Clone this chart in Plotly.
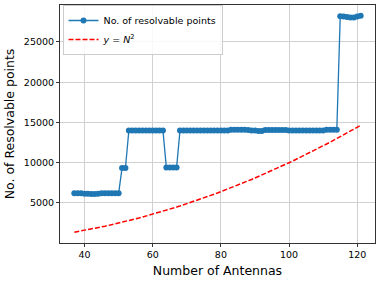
import plotly.graph_objects as go

antennas = list(range(37, 122))
resolvable = (
    [6200, 6200, 6200, 6150, 6150, 6100, 6100, 6150, 6200, 6200, 6200, 6200, 6200, 6200]  # 37-50
    + [9350, 9350]  # 51-52
    + [14000] * 11  # 53-63
    + [9400, 9400, 9400, 9400]  # 64-67
    + [14000] * 15  # 68-82
    + [14100, 14100, 14100, 14100, 14100, 14050]  # 83-88
    + [14000, 14000, 13950, 13950]  # 89-92
    + [14050] * 7  # 93-99
    + [14000] * 11  # 100-110
    + [14100, 14100, 14100, 14100]  # 111-114
    + [28200, 28150, 28100, 28050, 28050, 28150, 28250]  # 115-121
)
n_squared = [n * n for n in antennas]

fig = go.Figure()
fig.add_trace(go.Scatter(
    x=antennas, y=resolvable, mode="lines+markers",
    name="No. of resolvable points",
    line=dict(color="#1f77b4", width=1.3),
    marker=dict(color="#1f77b4", size=6),
))
fig.add_trace(go.Scatter(
    x=antennas, y=n_squared, mode="lines",
    name="<i>y</i> = <i>N</i><sup>2</sup>",
    line=dict(color="red", width=1.5, dash="5px,2px"),
))

axis_common = dict(
    showline=True, linecolor="#333", linewidth=1, mirror=True,
    ticks="outside", ticklen=3, tickcolor="#333",
    showgrid=True, gridcolor="#d0d0d0", gridwidth=1,
    zeroline=False,
    tickfont=dict(family="DejaVu Sans", size=9.5, color="black"),
)
fig.update_xaxes(range=[32.8, 125.2], tickvals=[40, 60, 80, 100, 120],
                 title=dict(text="Number of Antennas", font=dict(family="DejaVu Sans", size=12.5, color="black"), standoff=6),
                 **axis_common)
fig.update_yaxes(range=[25, 29594], tickvals=[5000, 10000, 15000, 20000, 25000],
                 tickformat="d",
                 title=dict(text="No. of Resolvable points", font=dict(family="DejaVu Sans", size=12.5, color="black"), standoff=6),
                 **axis_common)

fig.update_layout(
    width=380, height=281,
    margin=dict(l=60, r=5, t=5, b=38),
    plot_bgcolor="white", paper_bgcolor="white",
    showlegend=True,
    legend=dict(x=0.008, y=1.0, xanchor="left", yanchor="top",
                bgcolor="rgba(255,255,255,0.85)", bordercolor="#cccccc", borderwidth=1,
                font=dict(family="DejaVu Sans", size=9.5, color="black"),
                tracegroupgap=0, itemwidth=30),
)

fig.write_html("out.html", config={"displayModeBar": False},
               post_script="document.body.style.margin='0';document.body.style.overflow='hidden';")
